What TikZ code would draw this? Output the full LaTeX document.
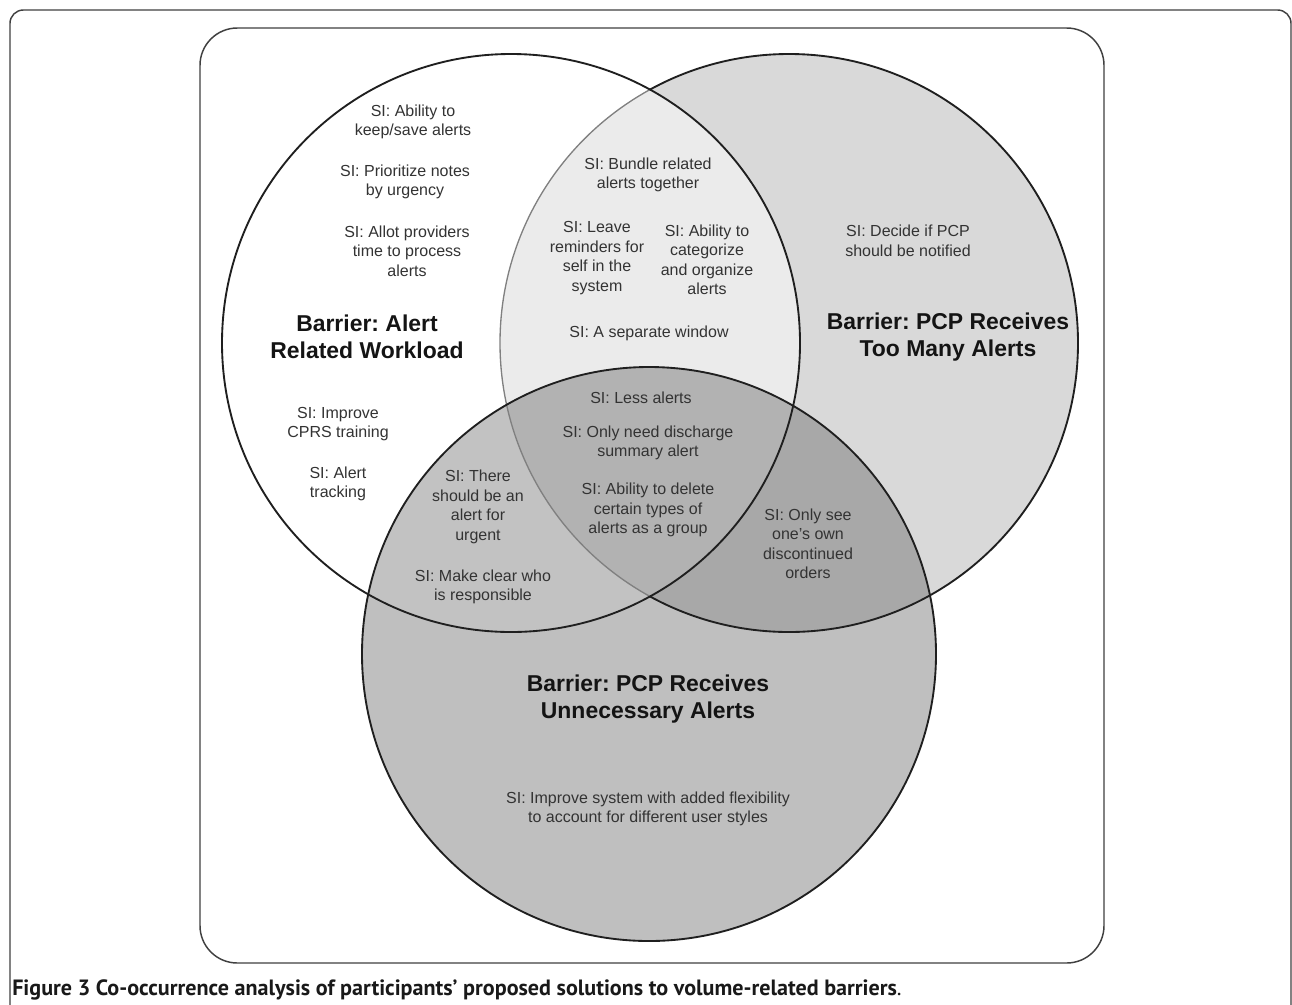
\documentclass[tikz,border=0pt]{standalone}
\usepackage{fontspec}
\setmainfont{Liberation Sans}
\newfontfamily\capfont{PT Sans}
\frenchspacing
\begin{document}
\begin{tikzpicture}[x=0.75pt,y=-0.75pt,
  si/.style={align=center,font=\fontsize{12}{14.6}\selectfont,text=black!80,inner sep=0pt},
  bar/.style={align=center,font=\fontsize{17.2}{20.2}\selectfont\bfseries,text=black!92,inner sep=0pt},
  ring/.style={draw=black!88,line width=1.4pt},
  frame/.style={draw=black!75,line width=1.1pt}]
\useasboundingbox (0,0) rectangle (1292,1004);
\fill[white] (0,0) rectangle (1292,1004);
\def\cL{(511,343) circle (289)}
\def\cR{(789,343) circle (289)}
\def\cB{(649,654) circle (287)}
% frames
\draw[frame,rounded corners=10] (10,1012) -- (10,10) -- (1291,10) -- (1291,1012);
\draw[frame,rounded corners=28] (200,28) rectangle (1104,963);
% fills
\fill[black!15] \cR;
\begin{scope}\clip \cL; \fill[black!8] \cR; \end{scope}
\fill[black!25] \cB;
\begin{scope}\clip \cB; \fill[black!24] \cL; \end{scope}
\begin{scope}\clip \cB; \fill[black!34] \cR; \end{scope}
\begin{scope}\clip \cB; \clip \cL; \fill[black!30] \cR; \end{scope}
% outlines
\begin{scope}[even odd rule]\clip (0,0) rectangle (1292,1004) \cL; \draw[ring] \cR; \end{scope}
\begin{scope}\clip \cL; \draw[draw=black!50,line width=1pt] \cR; \end{scope}
\draw[ring] \cL;
\draw[ring] \cB;
% left circle texts
\node[si] (a1) at (413,122) {SI: Ability to\\keep/save alerts};
\node[si] (a2) at (405,182) {SI: Prioritize notes\\by urgency};
\node[si] (a3) at (407,251) {SI: Allot providers\\time to process\\alerts};
\node[bar] (bA) at (367,337) {Barrier: Alert\\Related Workload};
\node[si] (a4) at (338,424) {SI: Improve\\CPRS training};
\node[si] (a5) at (338,484) {SI: Alert\\tracking};
% left-right overlap
\node[si] (b1) at (648,175) {SI: Bundle related\\alerts together};
\node[si] (b2) at (597,258) {SI: Leave\\reminders for\\self in the\\system};
\node[si] (b3) at (707,260) {SI: Ability to\\categorize\\and organize\\alerts};
\node[si] (b4) at (649,333) {SI: A separate window};
% right circle
\node[si] (c1) at (908,241) {SI: Decide if PCP\\should be notified};
\node[bar] (bB) at (948,337) {Barrier: PCP Receives\\Too Many Alerts};
% triple
\node[si] (d1) at (641,398) {SI: Less alerts};
\node[si] (d2) at (648,443) {SI: Only need discharge\\summary alert};
\node[si] (d3) at (648,510) {SI: Ability to delete\\certain types of\\alerts as a group};
% left-bottom
\node[si] (e1) at (478,507) {SI: There\\should be an\\alert for\\urgent};
\node[si] (e2) at (483,587) {SI: Make clear who\\is responsible};
% right-bottom
\node[si] (f1) at (808,544) {SI: Only see\\one's own\\discontinued\\orders};
% bottom
\node[bar] (bC) at (648,699) {Barrier: PCP Receives\\Unnecessary Alerts};
\node[si] (g1) at (648,809) {SI: Improve system with added flexibility\\to account for different user styles};
% caption
\node[anchor=west,inner sep=0pt,text=black!90] (cap) at (12,990)
  {\resizebox{667pt}{!}{\capfont\fontsize{15}{18}\selectfont\textbf{Figure 3 Co-occurrence analysis of participants’ proposed solutions to volume-related barriers}.}};
\end{tikzpicture}
\end{document}
